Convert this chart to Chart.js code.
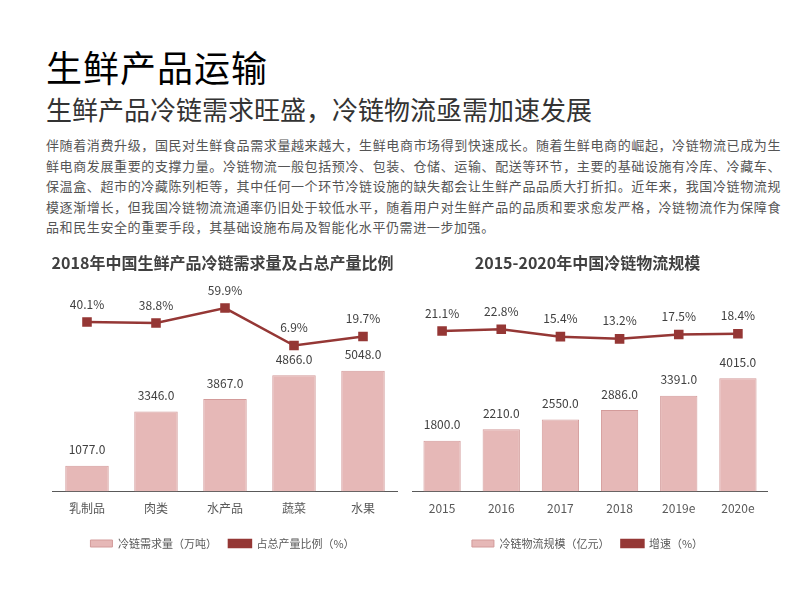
<!DOCTYPE html>
<html><head><meta charset="utf-8">
<script src="https://cdn.jsdelivr.net/npm/chart.js@4/dist/chart.umd.min.js"></script>
<style>
body{margin:0;width:800px;height:600px;background:#fff;font-family:"Noto Sans CJK SC","Noto Sans",sans-serif;position:relative;overflow:hidden}
#t1{position:absolute;left:46px;top:40px;font-size:36px;color:#000;letter-spacing:1px}
#t2{position:absolute;left:46px;top:90px;font-size:26px;color:#333}
#p{position:absolute;left:46px;top:135px;width:735px;font-size:13px;letter-spacing:0.6px;line-height:20.5px;color:#555;text-align:justify}
.box{position:absolute;top:247px;height:312px}
</style></head><body>
<div id="t1">生鲜产品运输</div>
<div id="t2">生鲜产品冷链需求旺盛，冷链物流亟需加速发展</div>
<div id="p">伴随着消费升级，国民对生鲜食品需求量越来越大，生鲜电商市场得到快速成长。随着生鲜电商的崛起，冷链物流已成为生鲜电商发展重要的支撑力量。冷链物流一般包括预冷、包装、仓储、运输、配送等环节，主要的基础设施有冷库、冷藏车、保温盒、超市的冷藏陈列柜等，其中任何一个环节冷链设施的缺失都会让生鲜产品品质大打折扣。近年来，我国冷链物流规模逐渐增长，但我国冷链物流流通率仍旧处于较低水平，随着用户对生鲜产品的品质和要求愈发严格，冷链物流作为保障食品和民生安全的重要手段，其基础设施布局及智能化水平仍需进一步加强。</div>
<div class="box" style="left:45px;width:360px"><canvas id="c1"></canvas></div>
<div class="box" style="left:405px;width:370px"><canvas id="c2"></canvas></div>
<script>
// 左图数据
const cats1 = ['乳制品', '肉类', '水产品', '蔬菜', '水果'];
const demand1 = [1077.0, 3346.0, 3867.0, 4866.0, 5048.0];
const ratio1 = [40.1, 38.8, 59.9, 6.9, 19.7];
// 右图数据
const cats2 = ['2015', '2016', '2017', '2018', '2019e', '2020e'];
const scale2 = [1800.0, 2210.0, 2550.0, 2886.0, 3391.0, 4015.0];
const growth2 = [21.1, 22.8, 15.4, 13.2, 17.5, 18.4];

const font = '"Noto Sans CJK SC", sans-serif';
const barFill = '#e6b8b7', barLine = '#d39b9a', lineColor = '#953735';

// 数值标签
const labelPlugin = {
    id: 'labels',
    afterDatasetsDraw(chart) {
        const ctx = chart.ctx;
        ctx.save();
        ctx.font = '12px ' + font;
        ctx.fillStyle = '#404040';
        ctx.textAlign = 'center';
        ctx.textBaseline = 'bottom';
        chart.data.datasets.forEach((ds, i) => {
            chart.getDatasetMeta(i).data.forEach((el, j) => {
                const txt = ds.type === 'line' ? ds.data[j].toFixed(1) + '%' : ds.data[j].toFixed(1);
                ctx.fillText(txt, el.x, el.y - (ds.type === 'line' ? 12 : 10));
            });
        });
        ctx.restore();
    }
};

function makeChart(id, title, cats, bars, line, barName, lineName, yMax, lMin, lMax) {
    return new Chart(document.getElementById(id), {
        data: {
            labels: cats,
            datasets: [
                { type: 'line', label: lineName, data: line, yAxisID: 'y2', borderColor: lineColor, backgroundColor: lineColor,
                  borderWidth: 2.5, pointStyle: 'rect', pointRadius: 5, order: 0 },
                { type: 'bar', label: barName, data: bars, yAxisID: 'y', backgroundColor: barFill, borderColor: barLine,
                  borderWidth: 1, categoryPercentage: 1, barPercentage: 0.63, order: 1 }
            ]
        },
        options: {
            responsive: true, maintainAspectRatio: false, animation: false,
            layout: { padding: { left: 0, right: 5, top: 0, bottom: 0 } },
            plugins: {
                title: { display: true, text: title, color: '#404040', font: { family: font, size: 16, weight: 'bold' }, padding: { top: 6, bottom: 16 } },
                legend: { position: 'bottom', reverse: true,
                    labels: { color: '#595959', font: { family: font, size: 11 }, boxWidth: 22, boxHeight: 7, padding: 12 } },
                tooltip: { enabled: false }
            },
            scales: {
                x: { grid: { display: false, drawTicks: false }, border: { color: '#595959' },
                     ticks: { color: '#595959', font: { family: font, size: 12 }, padding: 10 } },
                y: { display: false, min: 0, max: yMax },
                y2: { display: false, min: lMin, max: lMax }
            }
        },
        plugins: [labelPlugin]
    });
}

makeChart('c1', '2018年中国生鲜产品冷链需求量及占总产量比例', cats1, demand1, ratio1,
    '冷链需求量（万吨）', '占总产量比例（%）', 8500, -200, 88);
makeChart('c2', '2015-2020年中国冷链物流规模', cats2, scale2, growth2,
    '冷链物流规模（亿元）', '增速（%）', 7200, -140, 64);
</script>
</body></html>
